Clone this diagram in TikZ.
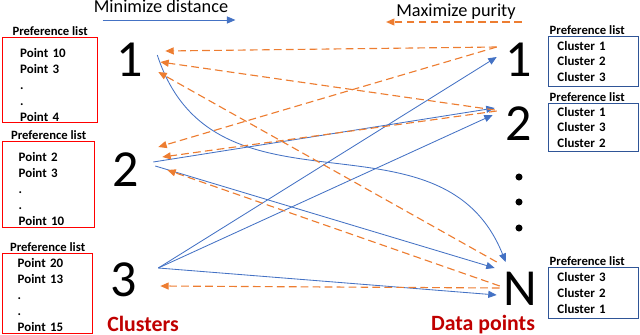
\documentclass[tikz,border=0pt]{standalone}
\usepackage{fontspec}
\setmainfont{Carlito}
\usetikzlibrary{arrows.meta,positioning}
\definecolor{distblue}{HTML}{4472C4}
\definecolor{purorange}{HTML}{ED7D31}
\definecolor{boxred}{HTML}{FF0000}
\definecolor{boxnavy}{HTML}{2F5597}
\definecolor{tagred}{HTML}{C00000}
\tikzset{>={Triangle[length=6pt,width=5pt]},
  every node/.style={font=\fontsize{9}{11.3}\selectfont},
  dist/.style={->,draw=distblue,line width=.6pt},
  purity/.style={->,draw=purorange,line width=.8pt,dash pattern=on 5.5pt off 3pt},
  bignum/.style={font=\fontsize{37}{37}\selectfont,inner sep=0pt},
  heading/.style={font=\fontsize{13}{13}\selectfont,inner sep=0pt,anchor=base},
  tag/.style={font=\bfseries\fontsize{9}{11}\selectfont,inner sep=1pt},
  plist/.style={anchor=north west,align=left,inner sep=0pt,font=\bfseries\fontsize{9.2}{11.3}\selectfont},
  redlist/.style={plist,draw=boxred,line width=.9pt,text width=1.5cm,label={[tag]above:Preference list}},
  navylist/.style={plist,draw=boxnavy,line width=.7pt,text width=1.8cm,label={[tag,anchor=south west]north west:Preference list}},
  caption/.style={font=\bfseries\fontsize{15.5}{16}\selectfont,text=tagred,anchor=base}}
\begin{document}
\begin{tikzpicture}[x=.025cm,y=-.025cm]
\path[use as bounding box] (0,0) rectangle (640,335);
\node[heading] (md) at (161,13) {Minimize distance};\node[heading] (mp) at (456,17) {Maximize purity};
\draw[dist] ([shift={(9,7)}]md.base west)--([shift={(7,7)}]md.base east);
\draw[purity] ([shift={(6,5)}]mp.base east)--([shift={(-10,5)}]mp.base west);
\node[redlist,minimum width=2.375cm,minimum height=2.125cm] (pl1) at (2,37) {\rule{0pt}{13pt}Point 10\\Point 3\\.\\.\\Point 4};
\node[redlist,minimum width=2.3cm,minimum height=2.15cm] (pl2) at (2,141) {\rule{0pt}{13pt}Point 2\\Point 3\\.\\.\\Point 10};
\node[redlist,minimum width=2.25cm,minimum height=2cm] (pl3) at (2,253) {\rule{0pt}{8pt}Point 20\\Point 13\\.\\.\\Point 15};
\node[navylist,minimum width=2.25cm,minimum height=1.25cm] (ql1) at (548,36) {Cluster 1\\Cluster 2\\Cluster 3};
\node[navylist,minimum width=2.25cm,minimum height=1.2cm] (ql2) at (548,103) {Cluster 1\\Cluster 3\\Cluster 2};
\node[navylist,minimum width=2.25cm,minimum height=1.275cm] (qlN) at (548,267) {Cluster 3\\Cluster 2\\Cluster 1};
\node[bignum,minimum width=1.4cm] (c1) at (130,60) {1};\node[bignum,minimum width=1.4cm] (c2) at (126,170) {2};
\node[bignum,minimum width=1.4cm] (c3) at (124,280) {3};
\node[bignum,minimum width=1.1cm] (d1) at (519,60) {1};\node[bignum,minimum width=1.1cm] (d2) at (519,124) {2};
\node[bignum,minimum width=1.1cm] (dN) at (520,289) {N};
\foreach \y in {177,202,228} \fill (519,\y) circle (2.5pt);
\node[caption] (cl) at (143,331) {Clusters};\node[caption] (dp) at (483,330) {Data points};
\draw[dist] ([shift={(-1,-5)}]c1.east) .. controls +(57,175) and +(-65,-162) .. ([shift={(8,-27)}]dN.west);
\draw[dist] ([shift={(-1,-8)}]c2.east)--([shift={(-2,-16)}]d2.west);\draw[dist] ([shift={(1,-4)}]c2.east)--([shift={(-3,-21)}]dN.west);
\draw[dist] ([shift={(6,-12)}]c3.east)--([shift={(0,-3)}]d1.west);\draw[dist] ([shift={(6,-12)}]c3.east)--([shift={(-4,-9)}]d2.west);
\draw[dist] ([shift={(6,-12)}]c3.east)--([shift={(-1,6)}]dN.west);
\draw[purity] ([shift={(0,-13)}]d1.west)--([shift={(7,-9)}]c1.east);\draw[purity] ([shift={(-2,-14)}]d2.west)--([shift={(2,2)}]c1.east);
\draw[purity] ([shift={(-1,-27)}]dN.west)--([shift={(0,12)}]c1.east);
\draw[purity] ([shift={(0,-13)}]d1.west)--([shift={(4,-23)}]c2.east);\draw[purity] ([shift={(0,-13)}]d2.west)--([shift={(8,-13)}]c2.east);
\draw[purity] ([shift={(2,-3)}]dN.west)--([shift={(13,0)}]c2.east);\draw[purity] ([shift={(2,-1)}]dN.west)--([shift={(8,6)}]c3.east);
\end{tikzpicture}
\end{document}
